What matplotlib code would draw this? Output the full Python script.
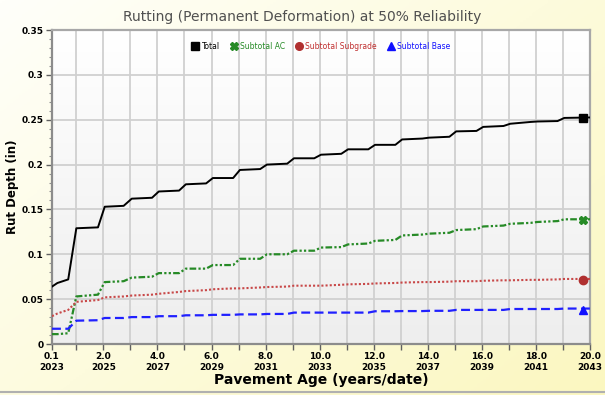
import numpy as np
import matplotlib.pyplot as plt
from matplotlib.lines import Line2D
from matplotlib.colors import LinearSegmentedColormap

# pavement age (years) at the start/end of each seasonal step
age = [0.1, 0.3, 0.7, 1.0, 1.8, 2.05, 2.75, 3.05, 3.8, 4.05, 4.8, 5.05, 5.8, 6.05,
       6.8, 7.05, 7.8, 8.05, 8.8, 9.05, 9.8, 10.05, 10.8, 11.05, 11.8, 12.05,
       12.8, 13.05, 13.8, 14.05, 14.8, 15.05, 15.8, 16.05, 16.8, 17.05, 17.8,
       18.05, 18.8, 19.05, 20.0]

total = [0.064, 0.068, 0.072, 0.129, 0.130, 0.153, 0.154, 0.162, 0.163, 0.170,
         0.171, 0.178, 0.179, 0.185, 0.185, 0.194, 0.195, 0.200, 0.201, 0.207,
         0.207, 0.211, 0.212, 0.217, 0.217, 0.222, 0.222, 0.228, 0.229, 0.230,
         0.231, 0.237, 0.2375, 0.242, 0.243, 0.2455, 0.2475, 0.248, 0.2485,
         0.252, 0.2525]

sub_ac = [0.011, 0.011, 0.012, 0.053, 0.055, 0.069, 0.070, 0.074, 0.075, 0.079,
          0.079, 0.084, 0.084, 0.088, 0.088, 0.095, 0.095, 0.100, 0.100, 0.104,
          0.104, 0.1075, 0.108, 0.111, 0.112, 0.115, 0.116, 0.121, 0.122, 0.123,
          0.124, 0.127, 0.128, 0.131, 0.132, 0.134, 0.135, 0.136, 0.137, 0.139,
          0.139]

sub_subgrade = [0.031, 0.034, 0.038, 0.047, 0.049, 0.052, 0.053, 0.054, 0.055,
                0.056, 0.058, 0.059, 0.060, 0.061, 0.062, 0.062, 0.063, 0.0635,
                0.064, 0.065, 0.065, 0.065, 0.066, 0.0665, 0.067, 0.0675, 0.068,
                0.0685, 0.069, 0.069, 0.0695, 0.070, 0.070, 0.0705, 0.071, 0.071,
                0.0715, 0.0715, 0.072, 0.0725, 0.0725]

sub_base = [0.017, 0.017, 0.017, 0.026, 0.0265, 0.029, 0.029, 0.030, 0.030,
            0.031, 0.031, 0.032, 0.032, 0.0325, 0.0325, 0.033, 0.033, 0.0335,
            0.0335, 0.035, 0.035, 0.035, 0.035, 0.035, 0.035, 0.0365, 0.0365,
            0.0367, 0.0367, 0.037, 0.037, 0.038, 0.038, 0.038, 0.038, 0.039,
            0.039, 0.039, 0.039, 0.0395, 0.0395]

# end-of-design-life markers
marker_age = 19.75
marker_vals = [0.252, 0.138, 0.0715, 0.038]

tick_pos = [0.1, 2, 4, 6, 8, 10, 12, 14, 16, 18, 20]
tick_lbl = ['0.1\n2023', '2.0\n2025', '4.0\n2027', '6.0\n2029', '8.0\n2031',
            '10.0\n2033', '12.0\n2035', '14.0\n2037', '16.0\n2039',
            '18.0\n2041', '20.0\n2043']
labels = ['Total', 'Subtotal AC', 'Subtotal Subgrade', 'Subtotal Base']

fig = plt.figure(figsize=(6.05, 3.95), dpi=100)

# pale yellow figure background
bg = fig.add_axes([0, 0, 1, 1], zorder=-10)
gx, gy = np.meshgrid(np.linspace(0, 1, 200), np.linspace(0, 1, 200))
bg_cmap = LinearSegmentedColormap.from_list('bg', ['#fffffa', '#fbf7c0'])
bg.imshow(0.55 * gx + 0.45 * gy, cmap=bg_cmap, aspect='auto', extent=[0, 1, 0, 1],
          origin='upper')
bg.plot([0, 1], [0.008, 0.008], color='#b0b0b0', lw=1.5)
bg.set_xlim(0, 1)
bg.set_ylim(0, 1)
bg.axis('off')

ax = fig.add_axes([52 / 605, 1 - 344 / 395, 538 / 605, 314 / 395])
plot_cmap = LinearSegmentedColormap.from_list('pa', ['#ffffff', '#eeeeee'])
ax.imshow(np.linspace(0, 1, 100).reshape(-1, 1), cmap=plot_cmap, aspect='auto',
          extent=[0.1, 20.0, 0, 0.35], origin='upper', zorder=0)

colors = ['black', '#268a26', '#c84848', '#2020ff']
styles = ['-', (0, (3, 1, 1, 1, 1, 1)), (0, (1, 1)), (0, (4, 2))]
widths = [1.4, 1.6, 1.5, 1.6]
series = [total, sub_ac, sub_subgrade, sub_base]
for vals, c, ls, w in zip(series, colors, styles, widths):
    ax.plot(age, vals, color=c, ls=ls, lw=w, zorder=3)

mk = ['s', 'X', 'o', '^']
mcol = ['black', '#268a26', '#b03030', '#1010ff']
for v, m, c in zip(marker_vals, mk, mcol):
    ax.plot(marker_age, v, marker=m, color=c, ms=6, ls='none', zorder=4,
            clip_on=False)

ax.set_xlim(0.1, 20.0)
ax.set_ylim(0, 0.35)
ax.set_xticks(tick_pos)
ax.set_xticklabels(tick_lbl)
ax.set_xticks(range(1, 20, 2), minor=True)
ax.set_yticks([0, 0.05, 0.1, 0.15, 0.2, 0.25, 0.3, 0.35])
ax.set_yticklabels(['0', '0.05', '0.1', '0.15', '0.2', '0.25', '0.3', '0.35'])
ax.set_yticks(np.arange(0, 0.35, 0.01), minor=True)
ax.tick_params(axis='both', which='major', labelsize=6.5, length=4, width=1,
               color='#606060', pad=2)
ax.tick_params(axis='x', which='minor', length=4, width=1, color='#606060')
ax.tick_params(axis='y', which='minor', length=2, width=0.8, color='#909090')
for lbl in ax.get_xticklabels() + ax.get_yticklabels():
    lbl.set_fontweight('bold')
ax.grid(True, which='major', color='#d0d0d0', lw=1.3, zorder=1)
ax.grid(True, which='minor', axis='x', color='#d0d0d0', lw=1.3, zorder=1)
ax.set_axisbelow(True)
for side, sp in ax.spines.items():
    sp.set_color('#8c8c8c' if side in ('left', 'bottom') else '#a8a8a8')
    sp.set_linewidth(1.6)

ax.set_xlabel('Pavement Age (years/date)', fontsize=10, fontweight='bold',
              labelpad=1)
ax.set_ylabel('Rut Depth (in)', fontsize=8.5, fontweight='bold', labelpad=2)
fig.text(0.5, 0.957, 'Rutting (Permanent Deformation) at 50% Reliability',
         ha='center', va='center', fontsize=10, color='#505050')

handles = [Line2D([], [], marker=m, color=c, ls='none', ms=5.5)
           for m, c in zip(mk, mcol)]
leg = ax.legend(handles, labels, loc='upper center', bbox_to_anchor=(0.5, 0.985),
                ncol=4, frameon=False, fontsize=5.5, handletextpad=0.35,
                columnspacing=1.3, handlelength=1.0)
for txt, c in zip(leg.get_texts(), ['black', '#268a26', '#c03030', '#1010ff']):
    txt.set_color(c)

fig.savefig('out.png', dpi=100)
